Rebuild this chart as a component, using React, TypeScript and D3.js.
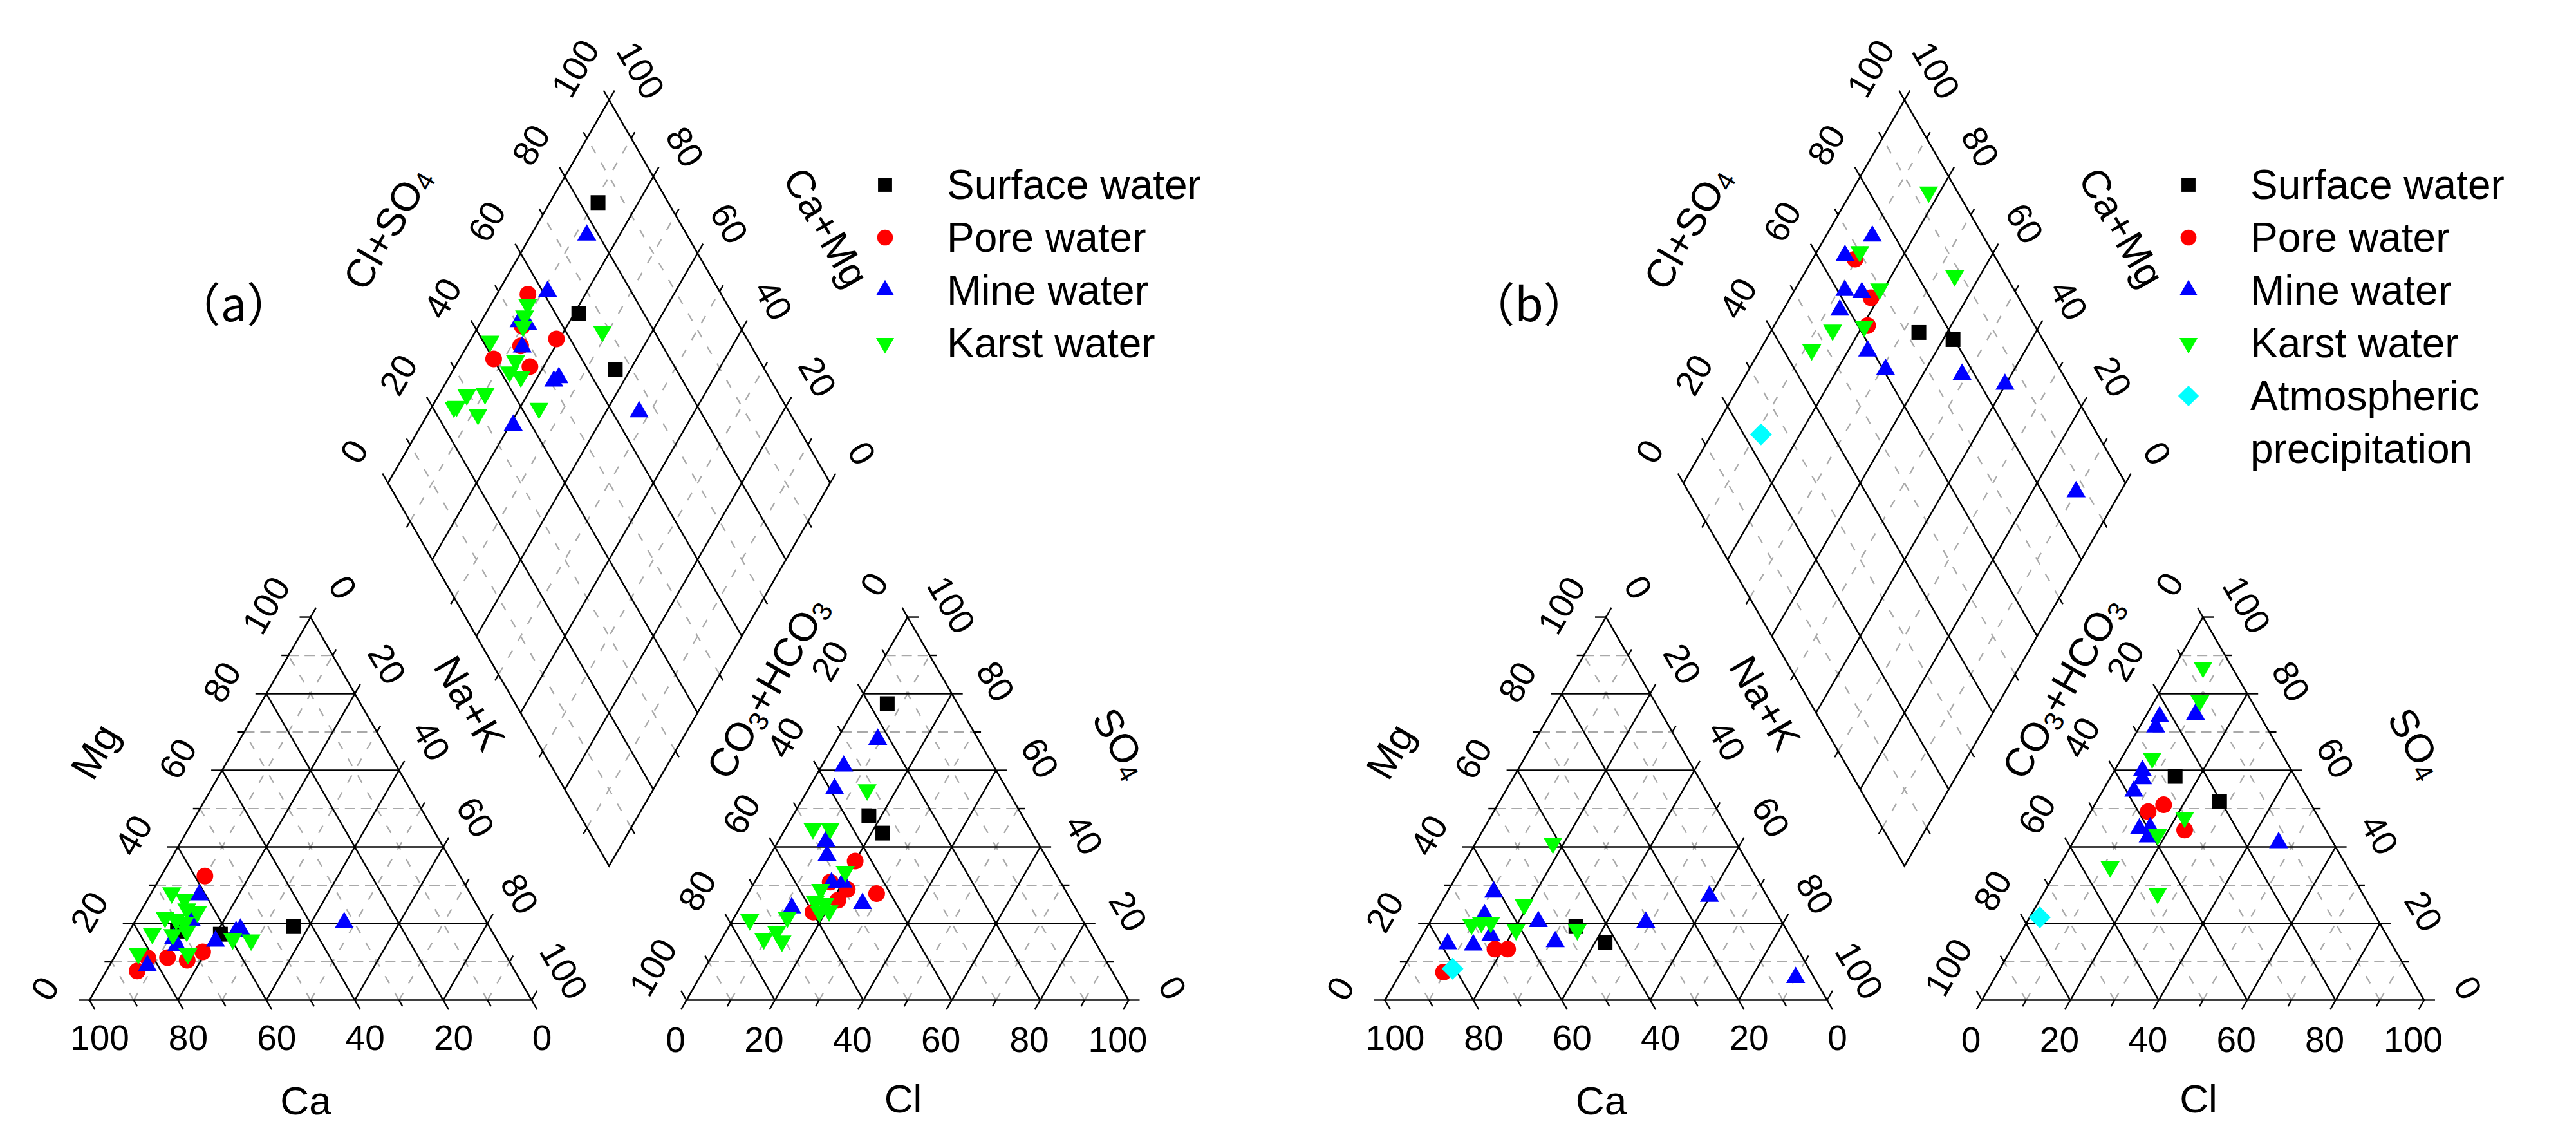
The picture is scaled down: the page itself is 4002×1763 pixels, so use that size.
import React from "react";
import * as d3 from "d3";

// Each sample: [Mg, Na+K, Cl, SO4] in meq %
type Sample = [number, number, number, number];

const surfaceA: Sample[] = [
  [18.0, 10.9, 6.7, 77.4],
  [17.2, 21.0, 17.2, 48.1],
  [19.2, 36.6, 22.6, 43.6],
];
const poreA: Sample[] = [
  [7.6, 7.0, 20.0, 36.3],
  [32.4, 9.9, 21.9, 28.9],
  [11.1, 12.1, 17.1, 30.8],
  [11.0, 7.7, 17.1, 23.0],
  [10.4, 16.9, 21.2, 26.1],
  [12.6, 19.3, 29.1, 27.8],
];
const mineA: Sample[] = [
  [27.5, 11.1, 5.9, 55.2],
  [20.8, 12.6, 9.2, 68.1],
  [14.3, 12.6, 17.5, 30.6],
  [17.9, 24.2, 20.0, 30.8],
  [18.5, 24.9, 27.2, 25.2],
  [20.2, 47.5, 5.0, 61.1],
  [15.4, 20.8, 11.75, 24.1],
  [9.0, 8.6, 12.9, 37.8],
  [16.0, 11.0, 10.8, 41.5],
];
const karstA: Sample[] = [
  [28.0, 4.6, 18.6, 23.0],
  [26.4, 8.3, 10.1, 44.8],
  [23.0, 12.9, 15.9, 28.9],
  [23.8, 10.1, 6.2, 44.8],
  [21.6, 6.3, 11.45, 17.9],
  [21.0, 9.1, 19.1, 33.6],
  [20.2, 11.4, 13.9, 15.4],
  [18.0, 13.0, 16.2, 25.8],
  [17.1, 10.3, 12.0, 21.6],
  [17.4, 5.5, 9.5, 16.0],
  [12.1, 5.0, 3.8, 21.0],
  [12.1, 16.2, 20.6, 23.3],
  [16.0, 24.4, 18.7, 25.2],
  [15.7, 28.7, 13.4, 54.9],
];

const surfaceB: Sample[] = [
  [19.2, 33.6, 14.5, 58.4],
  [15.1, 42.25, 27.8, 51.9],
];
const poreB: Sample[] = [
  [7.3, 9.6, 23.65, 44.4],
  [13.3, 18.25, 15.6, 51.0],
  [13.3, 21.1, 13.0, 49.2],
];
const mineB: Sample[] = [
  [28.2, 10.5, 3.65, 71.3],
  [14.7, 6.85, 6.35, 59.9],
  [22.3, 11.4, 7.1, 54.55],
  [16.9, 15.5, 7.4, 57.8],
  [14.4, 12.8, 13.25, 44.7],
  [20.5, 24.45, 16.3, 42.6],
  [15.25, 30.9, 15.55, 45.0],
  [20.3, 48.85, 3.2, 74.0],
  [27.1, 59.85, 11.0, 74.6],
  [5.9, 89.95, 46.55, 41.1],
];
const karstB: Sample[] = [
  [41.0, 17.5, 6.55, 86.9],
  [18.4, 34.3, 10.2, 78.2],
  [19.8, 9.7, 6.9, 63.2],
  [24.9, 19.05, 22.0, 47.7],
  [18.4, 20.45, 18.15, 43.2],
  [20.3, 13.8, 25.8, 27.9],
  [20.3, 11.65, 11.6, 34.8],
];
const atmosB: Sample[] = [[8.2, 11.2, 2.3, 21.6]];

const tickLabels = [0, 20, 40, 60, 80, 100];
const tickValues = [0, 10, 20, 30, 40, 50, 60, 70, 80, 90, 100];
const legendNamesA = ["Surface water", "Pore water", "Mine water", "Karst water"];
const legendNamesB = ["Surface water", "Pore water", "Mine water", "Karst water", "Atmospheric|precipitation"];

const FONT = "'Liberation Sans', Arial, sans-serif";
const W = 4002;
const HT = 1763;
const L = 687;
const TH = (L * Math.sqrt(3)) / 2;
const GAP = 240.5;
const BASE = 1553.5;
const sx = d3.scaleLinear().domain([0, 100]).range([0, L]);
const sy = d3.scaleLinear().domain([0, 100]).range([0, TH]);

type Pt = [number, number];

type Style = { color: string; shape: string };
const styles: Style[] = [
  { color: "#000000", shape: "square" },
  { color: "#ff0000", shape: "circle" },
  { color: "#0000ff", shape: "up" },
  { color: "#00ff00", shape: "down" },
  { color: "#00ffff", shape: "diamond" },
];

function symbolPath(shape: string, legend = false): { d: string; rot: number } {
  const k = legend ? 0.95 : 1;
  if (shape === "square") return { d: d3.symbol(d3.symbolSquare, 23 * 23 * k * k)()!, rot: 0 };
  if (shape === "circle") return { d: d3.symbol(d3.symbolCircle, Math.PI * 13 * 13 * k * k)()!, rot: 0 };
  if (shape === "up") return { d: d3.symbol(d3.symbolTriangle, 380 * k * k)()!, rot: 0 };
  if (shape === "down") return { d: d3.symbol(d3.symbolTriangle, 380 * k * k)()!, rot: 180 };
  return { d: d3.symbol(d3.symbolSquare, 24 * 24 * k * k)()!, rot: 45 };
}

function Marker({ p, st, legend }: { p: Pt; st: Style; legend?: boolean }) {
  const s = symbolPath(st.shape, legend);
  return (
    <path
      d={s.d}
      fill={st.color}
      transform={`translate(${p[0]},${p[1]}) rotate(${s.rot})`}
    />
  );
}

function bary(P: Pt[], a: number, b: number, c: number): Pt {
  return [a * P[0][0] + b * P[1][0] + c * P[2][0], a * P[0][1] + b * P[1][1] + c * P[2][1]];
}

type Axis = {
  pos: (v: number) => Pt;
  dir: Pt;
  off?: Pt;
  rot?: number;
  minorOnly?: boolean;
};

const MAJ = "#000";
const MIN = "#a9a9a9";

function Ticks({ axes }: { axes: Axis[] }) {
  const els: React.ReactNode[] = [];
  axes.forEach((ax, ai) => {
    tickValues.forEach((v) => {
      const major = v % 20 === 0;
      if (ax.minorOnly && major) return;
      const p = ax.pos(v / 100);
      const len = major ? 17 : 11;
      els.push(
        <line
          key={`t${ai}-${v}`}
          x1={p[0]}
          y1={p[1]}
          x2={p[0] + ax.dir[0] * len}
          y2={p[1] + ax.dir[1] * len}
          stroke={MAJ}
          strokeWidth={2.4}
        />
      );
    });
    if (ax.off) {
      tickLabels.forEach((v) => {
        const p = ax.pos(v / 100);
        const x = p[0] + ax.off![0];
        const y = p[1] + ax.off![1];
        els.push(
          <text
            key={`l${ai}-${v}`}
            x={x}
            y={y}
            fontSize={55}
            fontFamily={FONT}
            textAnchor="middle"
            dominantBaseline="central"
            transform={`rotate(${ax.rot || 0} ${x} ${y})`}
          >
            {v}
          </text>
        );
      });
    }
  });
  return <g>{els}</g>;
}

function TriGrid({ P, axes }: { P: Pt[]; axes: Axis[] }) {
  const cl = (k: number, v: number): [Pt, Pt] => {
    if (k === 0) return [bary(P, v, 1 - v, 0), bary(P, v, 0, 1 - v)];
    if (k === 1) return [bary(P, 1 - v, v, 0), bary(P, 0, v, 1 - v)];
    return [bary(P, 1 - v, 0, v), bary(P, 0, 1 - v, v)];
  };
  const els: React.ReactNode[] = [];
  [0.1, 0.3, 0.5, 0.7, 0.9].forEach((v) =>
    [0, 1, 2].forEach((k) => {
      const [a, b] = cl(k, v);
      els.push(
        <line key={`m${k}-${v}`} x1={a[0]} y1={a[1]} x2={b[0]} y2={b[1]} stroke={MIN} strokeWidth={2.2}
          strokeDasharray={k === 2 ? "16 9" : "13 17"} />
      );
    })
  );
  [0.2, 0.4, 0.6, 0.8].forEach((v) =>
    [0, 1, 2].forEach((k) => {
      const [a, b] = cl(k, v);
      els.push(<line key={`M${k}-${v}`} x1={a[0]} y1={a[1]} x2={b[0]} y2={b[1]} stroke={MAJ} strokeWidth={2.5} />);
    })
  );
  return (
    <g>
      {els}
      <polygon points={P.map((p) => p.join(",")).join(" ")} fill="none" stroke={MAJ} strokeWidth={2.6} />
      <Ticks axes={axes} />
    </g>
  );
}

function DiamondGrid({ B, Lv, Rv, axes }: { B: Pt; Lv: Pt; Rv: Pt; axes: Axis[] }) {
  const D = (c: number, m: number): Pt => [
    B[0] + c * (Rv[0] - B[0]) + m * (Lv[0] - B[0]),
    B[1] + c * (Rv[1] - B[1]) + m * (Lv[1] - B[1]),
  ];
  const els: React.ReactNode[] = [];
  [0.1, 0.3, 0.5, 0.7, 0.9].forEach((v) => {
    const a1 = D(v, 0), b1 = D(v, 1), a2 = D(0, v), b2 = D(1, v);
    els.push(<line key={`dc${v}`} x1={a1[0]} y1={a1[1]} x2={b1[0]} y2={b1[1]} stroke={MIN} strokeWidth={2.2} strokeDasharray="13 17" />);
    els.push(<line key={`dm${v}`} x1={a2[0]} y1={a2[1]} x2={b2[0]} y2={b2[1]} stroke={MIN} strokeWidth={2.2} strokeDasharray="13 17" />);
  });
  [0.2, 0.4, 0.6, 0.8].forEach((v) => {
    const a1 = D(v, 0), b1 = D(v, 1), a2 = D(0, v), b2 = D(1, v);
    els.push(<line key={`Dc${v}`} x1={a1[0]} y1={a1[1]} x2={b1[0]} y2={b1[1]} stroke={MAJ} strokeWidth={2.5} />);
    els.push(<line key={`Dm${v}`} x1={a2[0]} y1={a2[1]} x2={b2[0]} y2={b2[1]} stroke={MAJ} strokeWidth={2.5} />);
  });
  const corners = [D(0, 0), D(1, 0), D(1, 1), D(0, 1)];
  return (
    <g>
      {els}
      <polygon points={corners.map((p) => p.join(",")).join(" ")} fill="none" stroke={MAJ} strokeWidth={2.6} />
      <Ticks axes={axes} />
    </g>
  );
}

function Title({ x, y, rot, parts }: { x: number; y: number; rot: number; parts: [string, boolean][] }) {
  let shift = 0;
  return (
    <text x={x} y={y} fontSize={62} fontFamily={FONT} textAnchor="middle" dominantBaseline="central"
      transform={`rotate(${rot} ${x} ${y})`}>
      {parts.map(([t, sub], i) => {
        let dy = 0;
        if (sub && shift === 0) { dy = 14; shift = 14; }
        else if (!sub && shift !== 0) { dy = -shift; shift = 0; }
        return (
          <tspan key={i} dy={dy} fontSize={sub ? 42 : 62}>{t}</tspan>
        );
      })}
    </text>
  );
}

function Panel({ ox, groups, legendNames, legendX, tag, adj }: {
  ox: number; groups: Sample[][]; legendNames: string[]; legendX: number; tag: string;
  adj: { clso4: number };
}) {
  const cP: Pt[] = [[ox, BASE], [ox + L, BASE], [ox + L / 2, BASE - TH]];
  const ax0 = ox + L + GAP;
  const aP: Pt[] = [[ax0, BASE], [ax0 + L, BASE], [ax0 + L / 2, BASE - TH]];
  const B: Pt = [ox + L + GAP / 2, BASE - (GAP * Math.sqrt(3)) / 2];
  const Lv: Pt = [B[0] - L / 2, B[1] - TH];
  const Rv: Pt = [B[0] + L / 2, B[1] - TH];
  const D = (c: number, m: number): Pt => [
    B[0] + c * (Rv[0] - B[0]) + m * (Lv[0] - B[0]),
    B[1] + c * (Rv[1] - B[1]) + m * (Lv[1] - B[1]),
  ];
  const s3 = Math.sqrt(3) / 2;

  const catAxes: Axis[] = [
    { pos: (v) => bary(cP, 1 - v, 0, v), dir: [-1, 0], off: [-69, -18], rot: -60 },
    { pos: (v) => bary(cP, 0, v, 1 - v), dir: [0.5, -s3], off: [50, -46], rot: 60 },
    { pos: (v) => bary(cP, v, 1 - v, 0), dir: [0.5, s3], off: [16, 58], rot: 0 },
  ];
  const anAxes: Axis[] = [
    { pos: (v) => bary(aP, 0, 1 - v, v), dir: [1, 0], off: [68, -19], rot: 60 },
    { pos: (v) => bary(aP, v, 0, 1 - v), dir: [-0.5, -s3], off: [-52, -51], rot: -60 },
    { pos: (v) => bary(aP, 1 - v, v, 0), dir: [-0.5, s3], off: [-17, 61], rot: 0 },
  ];
  const dAxes: Axis[] = [
    { pos: (v) => D(v, 1), dir: [-0.5, -s3], off: [-52.5, -49], rot: -60 },
    { pos: (v) => D(1, v), dir: [0.5, -s3], off: [49, -46], rot: 60 },
    { pos: (v) => D(0, v), dir: [-0.5, s3], minorOnly: true },
    { pos: (v) => D(v, 0), dir: [0.5, s3], minorOnly: true },
  ];

  const catPt = (s: Sample): Pt => [ox + sx(s[1] + s[0] / 2), BASE - sy(s[0])];
  const anPt = (s: Sample): Pt => [ax0 + sx(s[2] + s[3] / 2), BASE - sy(s[3])];
  const dPt = (s: Sample): Pt => {
    const m = 100 - s[1];
    const c = s[2] + s[3];
    return [B[0] + sx(c - m) / 2, B[1] - sy(c + m)];
  };

  const markers: React.ReactNode[] = [];
  groups.forEach((g, gi) => {
    g.forEach((s, si) => {
      markers.push(<Marker key={`c${gi}-${si}`} p={catPt(s)} st={styles[gi]} />);
      markers.push(<Marker key={`a${gi}-${si}`} p={anPt(s)} st={styles[gi]} />);
      markers.push(<Marker key={`d${gi}-${si}`} p={dPt(s)} st={styles[gi]} />);
    });
  });

  const legend = legendNames.map((n, i) => {
    const y = 287 + 82 * i;
    const lines = n.split("|");
    return (
      <g key={n}>
        <Marker p={[legendX, y]} st={styles[i]} legend />
        {lines.map((t, j) => (
          <text key={t} x={legendX + 96} y={y + 82 * j} fontSize={64} fontFamily={FONT} dominantBaseline="central">
            {t}
          </text>
        ))}
      </g>
    );
  });

  return (
    <g>
      <TriGrid P={cP} axes={catAxes} />
      <TriGrid P={aP} axes={anAxes} />
      <DiamondGrid B={B} Lv={Lv} Rv={Rv} axes={dAxes} />
      <Title x={ox + 8} y={1167} rot={-60} parts={[["Mg", false]]} />
      <Title x={ox + 591} y={1092} rot={60} parts={[["Na+K", false]]} />
      <Title x={ox + 336} y={1709} rot={0} parts={[["Ca", false]]} />
      <Title x={ox + 1053} y={1068} rot={-60} parts={[["CO", false], ["3", true], ["+HCO", false], ["3", true]]} />
      <Title x={ox + 1603} y={1154} rot={60} parts={[["SO", false], ["4", true]]} />
      <Title x={ox + 1264} y={1706} rot={0} parts={[["Cl", false]]} />
      <Title x={ox + adj.clso4} y={354} rot={-60} parts={[["Cl+SO", false], ["4", true]]} />
      <Title x={ox + 1145} y={353} rot={60} parts={[["Ca+Mg", false]]} />
      {markers}
      {legend}
      <text x={ox + 224} y={467} fontSize={72} fontFamily={"'Noto Sans CJK SC', 'Liberation Sans', sans-serif"}
        textAnchor="middle" dominantBaseline="central">
        {tag}
      </text>
    </g>
  );
}

export default function App() {
  return (
    <div style={{ position: "absolute", left: 0, top: 0 }}>
      <svg width={W} height={HT} viewBox={`0 0 ${W} ${HT}`} style={{ display: "block", background: "#fff" }}>
        <rect width={W} height={HT} fill="#fff" />
        <Panel ox={139} groups={[surfaceA, poreA, mineA, karstA]} legendNames={legendNamesA}
          legendX={1375} tag="（a）" adj={{ clso4: 462 }} />
        <Panel ox={2151.5} groups={[surfaceB, poreB, mineB, karstB, atmosB]} legendNames={legendNamesB}
          legendX={3400} tag="（b）" adj={{ clso4: 470 }} />
      </svg>
    </div>
  );
}
